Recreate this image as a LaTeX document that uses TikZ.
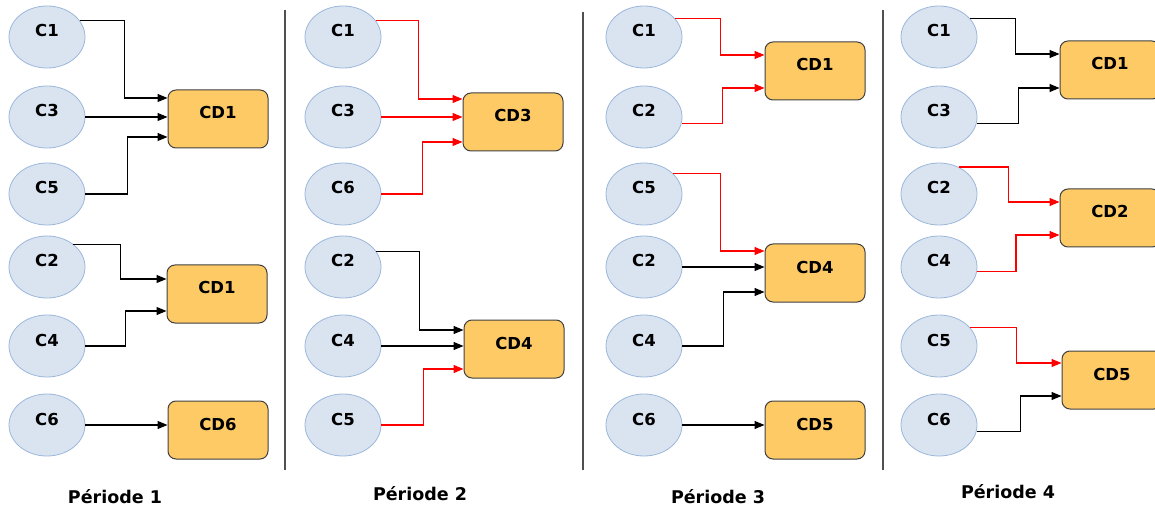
\documentclass[tikz,border=0pt]{standalone}
\usepackage{fontspec}
\setmainfont{DejaVu Sans}
\usepackage{tikz}
\usetikzlibrary{positioning, arrows.meta, shapes.geometric}
\definecolor{clientFill}{HTML}{DAE4F1}
\definecolor{clientLine}{HTML}{9BB7DB}
\definecolor{depotFill}{HTML}{FECA66}
\definecolor{depotLine}{HTML}{404040}
\definecolor{sepLine}{HTML}{505050}
\definecolor{changeRed}{HTML}{FF0000}

\begin{document}
\begin{tikzpicture}[x=1pt, y=-1pt,
  every node/.style={font=\bfseries\fontsize{16.5}{19}\selectfont},
  client/.style={ellipse, draw=clientLine, fill=clientFill, line width=0.8pt,
              minimum width=76pt, minimum height=62pt, inner sep=0pt,
              text height=12pt, text depth=12pt},
  depot/.style={rectangle, rounded corners=8pt, draw=depotLine, fill=depotFill,
              line width=1pt, minimum width=100pt, minimum height=58pt,
              inner sep=0pt, text height=12pt, text depth=12pt},
  link/.style={-{Triangle[length=10pt, width=8pt]}, line width=1.2pt, black},
  moved/.style={link, changeRed},
  sep/.style={draw=sepLine, line width=1.4pt},
  period/.style={font=\bfseries\fontsize{17.5}{20}\selectfont},
]
  \useasboundingbox (0,0) rectangle (1155,510);

  % Periode 1
  \node[client] (p1c1) at (47,37)  {C1};
  \node[client] (p1c3) at (47,117) {C3};
  \node[client] (p1c5) at (47,194) {C5};
  \node[client] (p1c2) at (47,267) {C2};
  \node[client] (p1c4) at (47,346) {C4};
  \node[client] (p1c6) at (47,425) {C6};
  \node[depot] (p1cd1a) at (218,119) {CD1};
  \node[depot] (p1cd1b) at (217,294) {CD1};
  \node[depot] (p1cd6)  at (218,430) {CD6};

  \draw[link] (p1c1.27) -- ++(45,0) |- ([yshift=21pt]p1cd1a.west);
  \draw[link] (p1c3.east) -- (p1c3.east -| p1cd1a.west);
  \draw[link] (p1c5.east) -- ++(42,0) |- ([yshift=-18pt]p1cd1a.west);
  \draw[link] (p1c2.41) -- ++(47,0) |- ([yshift=15pt]p1cd1b.west);
  \draw[link] (p1c4.east) -- ++(40,0) |- ([yshift=-17pt]p1cd1b.west);
  \draw[link] (p1c6.east) -- (p1c6.east -| p1cd6.west);

  % Periode 2
  \node[client] (p2c1) at (343,37)  {C1};
  \node[client] (p2c3) at (343,117) {C3};
  \node[client] (p2c6) at (343,194) {C6};
  \node[client] (p2c2) at (343,267) {C2};
  \node[client] (p2c4) at (343,346) {C4};
  \node[client] (p2c5) at (343,425) {C5};
  \node[depot] (p2cd3) at (513,122) {CD3};
  \node[depot] (p2cd4) at (514,349) {CD4};

  \draw[moved] (p2c1.27) -- ++(43,0) |- ([yshift=23pt]p2cd3.west);
  \draw[moved] (p2c3.east) -- (p2c3.east -| p2cd3.west);
  \draw[moved] (p2c6.east) -- ++(41,0) |- ([yshift=-20pt]p2cd3.west);
  \draw[link] (p2c2.25) -- ++(43,0) |- ([yshift=19pt]p2cd4.west);
  \draw[link] (p2c4.east) -- (p2c4.east -| p2cd4.west);
  \draw[moved] (p2c5.east) -- ++(42,0) |- ([yshift=-20pt]p2cd4.west);

  % Periode 3
  \node[client] (p3c1)  at (644,37)  {C1};
  \node[client] (p3c2a) at (644,117) {C2};
  \node[client] (p3c5)  at (644,194) {C5};
  \node[client] (p3c2b) at (644,267) {C2};
  \node[client] (p3c4)  at (644,346) {C4};
  \node[client] (p3c6)  at (644,425) {C6};
  \node[depot] (p3cd1) at (815,71)  {CD1};
  \node[depot] (p3cd4) at (815,273) {CD4};
  \node[depot] (p3cd5) at (815,430) {CD5};

  \draw[moved] (p3c1.30) -- ++(45,0) |- ([yshift=16pt]p3cd1.west);
  \draw[moved] (p3c2a.-10) -- ++(41,0) |- ([yshift=-17pt]p3cd1.west);
  \draw[moved] (p3c5.35) -- ++(47,0) |- ([yshift=22pt]p3cd4.west);
  \draw[link] (p3c2b.east) -- (p3c2b.east -| p3cd4.west);
  \draw[link] (p3c4.east) -- ++(41,0) |- ([yshift=-19pt]p3cd4.west);
  \draw[link] (p3c6.east) -- (p3c6.east -| p3cd5.west);

  % Periode 4
  \node[client] (p4c1) at (939,37)  {C1};
  \node[client] (p4c3) at (939,117) {C3};
  \node[client] (p4c2) at (939,194) {C2};
  \node[client] (p4c4) at (939,267) {C4};
  \node[client] (p4c5) at (939,346) {C5};
  \node[client] (p4c6) at (939,425) {C6};
  \node[depot] (p4cd1) at (1110,70)  {CD1};
  \node[depot] (p4cd2) at (1110,218) {CD2};
  \node[depot] (p4cd5) at (1112,380) {CD5};

  \draw[link] (p4c1.30) -- ++(45,0) |- ([yshift=16pt]p4cd1.west);
  \draw[link] (p4c3.-10) -- ++(42,0) |- ([yshift=-18pt]p4cd1.west);
  \draw[moved] (p4c2.54) -- ++(50,0) |- ([yshift=16pt]p4cd2.west);
  \draw[moved] (p4c4.-7) -- ++(39,0) |- ([yshift=-17pt]p4cd2.west);
  \draw[moved] (p4c5.30) -- ++(46,0) |- ([yshift=17pt]p4cd5.west);
  \draw[link] (p4c6.-10) -- ++(44,0) |- ([yshift=-16pt]p4cd5.west);

  % separateurs et titres
  \draw[sep] (285,10) -- (285,470);
  \draw[sep] (583,12) -- (583,470);
  \draw[sep] (883,10) -- (883,470);

  \node[period] (lab1) at (115,497)  {Période 1};
  \node[period] (lab2) at (420,494)  {Période 2};
  \node[period] (lab3) at (718,497)  {Période 3};
  \node[period] (lab4) at (1008,492) {Période 4};
\end{tikzpicture}
\end{document}
